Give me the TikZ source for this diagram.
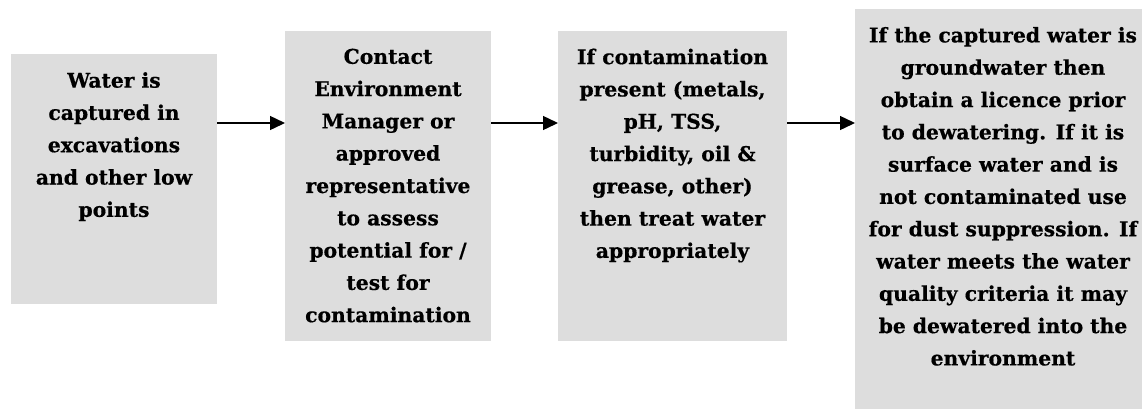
\documentclass[tikz,border=0pt]{standalone}
\usepackage{fontspec}
\setmainfont{DejaVu Serif}[BoldFeatures={FakeBold=0.5}]
\usetikzlibrary{arrows.meta}
\definecolor{boxgray}{RGB}{221,221,221}
\begin{document}
\begin{tikzpicture}[x=1pt,y=-1pt,
  stepbox/.style={draw=none,fill=boxgray,inner sep=0pt,outer sep=0pt},
  steptext/.style={anchor=north,align=center,inner sep=0pt,font=\bfseries\fontsize{20.3}{32.3}\selectfont},
  flow/.style={line width=1.4pt,-{Triangle[length=15pt,width=14pt]}}]
\useasboundingbox (0,0) rectangle (1142,408);
\clip (0,0) rectangle (1142,408);
\node[stepbox,minimum width=206pt,minimum height=250pt] (b1) at (114,179) {};
\node[stepbox,minimum width=206pt,minimum height=310pt] (b2) at (388,186) {};
\node[stepbox,minimum width=229pt,minimum height=310pt] (b3) at (672.5,186) {};
\node[stepbox,minimum width=298pt,minimum height=411pt] (b4) at (1004,214.5) {};
\node[steptext] (t1) at (114,72) {Water is\\captured in\\excavations\\and other low\\points};
\node[steptext] (t2) at (388,48.5) {Contact\\Environment\\Manager or\\approved\\representative\\to assess\\potential for /\\test for\\contamination};
\node[steptext] (t3) at (672.5,48.5) {If contamination\\present (metals,\\pH, TSS,\\turbidity, oil \&\\grease, other)\\then treat water\\appropriately};
\node[steptext] (t4) at (1003,26.8) {If the captured water is\\groundwater then\\obtain a licence prior\\to dewatering. If it is\\surface water and is\\not contaminated use\\for dust suppression. If\\water meets the water\\quality criteria it may\\be dewatered into the\\environment};
\coordinate (row) at (0,123);
\draw[flow] (b1.east |- row) -- (b2.west |- row);
\draw[flow] (b2.east |- row) -- (b3.west |- row);
\draw[flow] (b3.east |- row) -- (b4.west |- row);
\end{tikzpicture}
\end{document}
